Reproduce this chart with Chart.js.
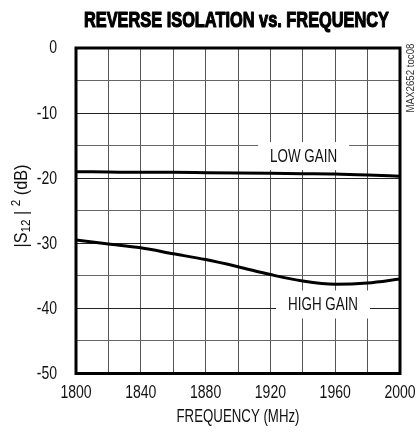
<!DOCTYPE html>
<html>
<head>
<meta charset="utf-8">
<script src="https://cdn.jsdelivr.net/npm/chart.js@4"></script>
<style>
html,body{margin:0;padding:0;background:#fff;}
#wrap{position:relative;width:418px;height:433px;}
</style>
</head>
<body>
<div id="wrap"><canvas id="c" width="418" height="433"></canvas></div>
<script>
const titleText = "REVERSE ISOLATION vs. FREQUENCY";
const xAxisTitle = "FREQUENCY (MHz)";
const sideNote = "MAX2652 toc08";
const freq = [1800, 1820, 1840, 1860, 1880, 1900, 1920, 1940, 1960, 1980, 2000];
const lowGain = [-19.0, -19.05, -19.1, -19.1, -19.15, -19.2, -19.25, -19.3, -19.35, -19.5, -19.7];
const highGain = [-29.5, -30.1, -30.7, -31.6, -32.5, -33.6, -34.8, -35.8, -36.3, -36.1, -35.5];
const xTickLabels = [1800, 1840, 1880, 1920, 1960, 2000];
const yTickLabels = [0, -10, -20, -30, -40, -50];
const curveLabels = [
  {text: "LOW GAIN", x: 1940.5, y: -16.6, w: 67},
  {text: "HIGH GAIN", x: 1952.5, y: -39.4, w: 70}
];

const FONT = "'Liberation Sans', Arial, sans-serif";
const COND = 0.78;

function drawScaled(ctx, text, x, y, sx, align, baseline, stroke) {
  ctx.save();
  ctx.translate(x, y);
  ctx.scale(sx, 1);
  ctx.textAlign = align || 'center';
  ctx.textBaseline = baseline || 'middle';
  if (stroke) {
    ctx.lineWidth = stroke;
    ctx.strokeStyle = ctx.fillStyle;
    ctx.lineJoin = 'round';
    ctx.strokeText(text, 0, 0);
  }
  ctx.fillText(text, 0, 0);
  ctx.restore();
}

const annot = {
  id: 'annot',
  beforeDatasetsDraw(chart) {
    const ctx = chart.ctx, xs = chart.scales.x, ys = chart.scales.y;
    ctx.save();
    ctx.font = "18px " + FONT;
    curveLabels.forEach(l => {
      const px = xs.getPixelForValue(l.x), py = ys.getPixelForValue(l.y);
      const sx = l.w / ctx.measureText(l.text).width;
      ctx.fillStyle = '#fff';
      ctx.fillRect(px - l.w / 2 - 12, py - 14, l.w + 24, 28);
      ctx.fillStyle = '#111';
      drawScaled(ctx, l.text, px, py + 1, sx, 'center', 'middle');
    });
    ctx.restore();
  },
  afterDraw(chart) {
    const ctx = chart.ctx, a = chart.chartArea, xs = chart.scales.x, ys = chart.scales.y;
    ctx.save();
    // frame
    ctx.strokeStyle = '#000';
    ctx.lineWidth = 3;
    ctx.strokeRect(a.left, a.top, a.right - a.left, a.bottom - a.top);
    // tick labels (positioned by the library's scales)
    ctx.fillStyle = '#111';
    ctx.font = "18px " + FONT;
    ys.ticks.forEach(t => {
      if (yTickLabels.includes(t.value)) {
        drawScaled(ctx, String(t.value), a.left - 19, ys.getPixelForValue(t.value) + 0.5, COND, 'right', 'middle');
      }
    });
    xs.ticks.forEach(t => {
      if (xTickLabels.includes(t.value)) {
        drawScaled(ctx, String(t.value), xs.getPixelForValue(t.value), a.bottom + 20, COND, 'center', 'middle');
      }
    });
    // x axis title
    ctx.font = "18px " + FONT;
    drawScaled(ctx, xAxisTitle, (a.left + a.right) / 2, 417, 123 / ctx.measureText(xAxisTitle).width, 'center', 'middle');
    // title
    ctx.fillStyle = '#000';
    ctx.font = "bold 22px " + FONT;
    drawScaled(ctx, titleText, 236.5, 21, 305 / ctx.measureText(titleText).width, 'center', 'middle', 1.2);
    // side note
    ctx.save();
    ctx.font = "11px " + FONT;
    ctx.fillStyle = '#333';
    const nw = ctx.measureText(sideNote).width;
    ctx.translate(411, 78);
    ctx.rotate(-Math.PI / 2);
    drawScaled(ctx, sideNote, 0, 0, 69 / nw, 'center', 'middle');
    ctx.restore();
    // y axis title with sub/superscripts
    const segs = [
      {t: "|S", f: 18, dy: 0},
      {t: "12", f: 13, dy: 3},
      {t: " | ", f: 18, dy: 0},
      {t: "2", f: 13, dy: -7},
      {t: " (dB)", f: 18, dy: 0}
    ];
    let total = 0;
    segs.forEach(s => { ctx.font = s.f + "px " + FONT; s.w = ctx.measureText(s.t).width; total += s.w; });
    const sy = 83 / total;
    ctx.save();
    ctx.translate(21, 206);
    ctx.rotate(-Math.PI / 2);
    ctx.scale(sy, 1);
    ctx.textAlign = 'left';
    ctx.textBaseline = 'alphabetic';
    ctx.fillStyle = '#111';
    let cx = -total / 2;
    segs.forEach(s => {
      ctx.font = s.f + "px " + FONT;
      ctx.fillText(s.t, cx, 6 + s.dy);
      cx += s.w;
    });
    ctx.restore();
    ctx.restore();
  }
};

new Chart(document.getElementById('c'), {
  type: 'line',
  data: {
    datasets: [
      {label: 'LOW GAIN', data: freq.map((f, i) => ({x: f, y: lowGain[i]})),
       borderColor: '#000', borderWidth: 3, pointRadius: 0, cubicInterpolationMode: 'monotone', fill: false},
      {label: 'HIGH GAIN', data: freq.map((f, i) => ({x: f, y: highGain[i]})),
       borderColor: '#000', borderWidth: 3, pointRadius: 0, cubicInterpolationMode: 'monotone', fill: false}
    ]
  },
  options: {
    responsive: false,
    animation: false,
    devicePixelRatio: 1,
    layout: {padding: {top: 48, right: 18, left: 0, bottom: 0}},
    plugins: {legend: {display: false}, title: {display: false}, tooltip: {enabled: false}},
    scales: {
      x: {
        type: 'linear', min: 1800, max: 2000,
        afterFit(s) { s.height = 59.5; },
        border: {display: false},
        grid: {color: '#555', lineWidth: 1, drawTicks: false},
        ticks: {stepSize: 20, display: false}
      },
      y: {
        min: -50, max: 0,
        afterFit(s) { s.width = 76; },
        border: {display: false},
        grid: {
          color: c => (c.tick && c.tick.value % 10 === 0) ? '#222' : '#666',
          lineWidth: 1, drawTicks: false
        },
        ticks: {stepSize: 5, display: false}
      }
    }
  },
  plugins: [annot]
});
</script>
</body>
</html>
